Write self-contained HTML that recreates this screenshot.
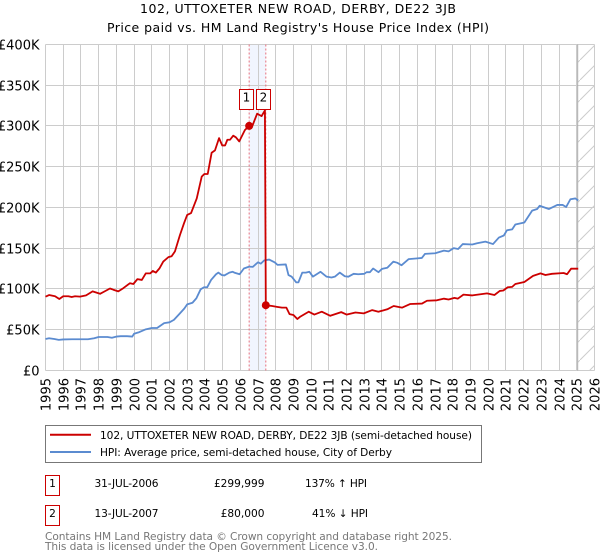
<!DOCTYPE html>
<html lang="en">
<head>
<meta charset="utf-8">
<title>102, UTTOXETER NEW ROAD, DERBY, DE22 3JB</title>
<style>
html,body{margin:0;padding:0;background:#fff;width:600px;height:560px;overflow:hidden}
svg{display:block}
text{font-family:"DejaVu Sans","Liberation Sans",sans-serif;fill:#000}
</style>
</head>
<body>
<svg id="chart" xmlns="http://www.w3.org/2000/svg" width="600" height="560" viewBox="0 0 600 560">
  <defs>
    <pattern id="hatch" patternUnits="userSpaceOnUse" width="20" height="20">
      <path d="M-2 22 L22 -2" stroke="#ccc" stroke-width="1" fill="none"/>
    </pattern>
  </defs>
  <rect x="0" y="0" width="600" height="560" fill="#fff"/>
  <text x="298" y="13" text-anchor="middle" font-size="12.5" textLength="316" lengthAdjust="spacing">102, UTTOXETER NEW ROAD, DERBY, DE22 3JB</text>
  <text x="298" y="32" text-anchor="middle" font-size="12.5" textLength="382" lengthAdjust="spacing">Price paid vs. HM Land Registry's House Price Index (HPI)</text>
  <g id="plot"></g>

  <g>
    <rect x="45.5" y="425.5" width="436" height="37" fill="#fff" stroke="#777" stroke-width="1"/>
    <line x1="50" x2="91" y1="434.7" y2="434.7" stroke="#cc0000" stroke-width="2"/>
    <text x="100" y="439" font-size="10.6" textLength="372" lengthAdjust="spacing">102, UTTOXETER NEW ROAD, DERBY, DE22 3JB (semi-detached house)</text>
    <line x1="50" x2="91" y1="452" y2="452" stroke="#5b8bd0" stroke-width="2"/>
    <text x="100" y="456" font-size="10.6" textLength="292" lengthAdjust="spacing">HPI: Average price, semi-detached house, City of Derby</text>
  </g>

  <g>
    <rect x="45.5" y="475.5" width="14" height="20" fill="#fff" stroke="#c00" stroke-width="1"/>
    <text x="52.5" y="487" text-anchor="middle" font-size="10.6">1</text>
    <text x="94.5" y="487" font-size="10.6" textLength="64" lengthAdjust="spacing">31-JUL-2006</text>
    <text x="264.5" y="487" text-anchor="end" font-size="10.6">£299,999</text>
    <text x="305" y="487" font-size="10.6" textLength="62" lengthAdjust="spacing">137% ↑ HPI</text>
    <rect x="45.5" y="505.5" width="14" height="20" fill="#fff" stroke="#c00" stroke-width="1"/>
    <text x="52.5" y="517" text-anchor="middle" font-size="10.6">2</text>
    <text x="94.5" y="517" font-size="10.6" textLength="64" lengthAdjust="spacing">13-JUL-2007</text>
    <text x="264.5" y="517" text-anchor="end" font-size="10.6">£80,000</text>
    <text x="312" y="517" font-size="10.6" textLength="56" lengthAdjust="spacing">41% ↓ HPI</text>
  </g>

  <text x="45" y="540" font-size="10.6" textLength="407" lengthAdjust="spacing" style="fill:#777">Contains HM Land Registry data © Crown copyright and database right 2025.</text>
  <text x="45" y="550" font-size="10.6" textLength="333" lengthAdjust="spacing" style="fill:#777">This data is licensed under the Open Government Licence v3.0.</text>
</svg>

<script>
const yearTicks = [1995,1996,1997,1998,1999,2000,2001,2002,2003,2004,2005,2006,2007,2008,2009,2010,2011,2012,2013,2014,2015,2016,2017,2018,2019,2020,2021,2022,2023,2024,2025,2026];
const valueTicks = [0,50,100,150,200,250,300,350,400];
const valueTickLabels = ['£0','£50K','£100K','£150K','£200K','£250K','£300K','£350K','£400K'];

const priceYears = [
  1995,1995.2,1995.54,1995.78,1996,1996.29,1996.48,1996.67,1996.95,1997.29,1997.66,1998.08,1998.3,1998.64,1998.83,1999.11,1999.4,1999.77,1999.96,
  2000.19,2000.44,2000.66,2000.91,2001.06,2001.23,2001.43,2001.65,2001.94,2002.12,2002.31,2002.59,2002.82,2003,2003.22,2003.54,2003.82,2003.97,2004.16,2004.38,2004.57,2004.8,2004.98,
  2005.14,2005.27,2005.42,2005.6,2005.75,2005.94,2006.26,2006.5,2006.68,2006.95,2007.2,2007.39,2007.44,
  2007.8,2008.07,2008.35,2008.6,2008.78,2009,2009.22,2009.39,
  2009.86,2010.18,2010.6,2011.08,2011.7,2012,2012.5,2012.97,2013.45,2013.8,2014.3,2014.66,2015.13,2015.6,2016.26,2016.54,2017.1,2017.5,2017.76,2018.09,2018.28,2018.6,2019.1,2019.93,2020.35,2020.65,2020.85,2021.1,2021.35,2021.53,2022.04,2022.53,2022.95,2023.23,2023.6,2024.26,2024.45,2024.68,2025.08
];
const priceValues = [
  90.5,92.5,91,87.6,91,91,90,91,90.5,92,97,94,96.5,100.5,99,97,101,107,106,
  112,111,119,119,122,120,125,133.5,139,140,146,166,180.5,190.7,193,211,237.7,241,241,267,270,285,276,
  276,283,283,288,286,281,295,300,300,315,312,319,80,
  79,78,77,77,69,68,63,66,
  72,68.5,72,67,71.5,68.5,71,70,74,72,75,79,77,81.5,82,85.5,86,88,87,89,88,93,92,94.5,92.5,97.5,98,102,102.5,106,108.5,116,119,117,118.5,119.5,118,124.8,124.8
];

const hpiYears = [
  1995,1995.2,1995.5,1995.75,1996,1996.5,1997,1997.4,1997.75,1998,1998.5,1998.75,1999,1999.25,1999.6,1999.9,
  2000,2000.3,2000.66,2001,2001.3,2001.7,2002,2002.25,2002.59,2002.84,2003,2003.3,2003.52,2003.76,2003.95,2004.13,2004.35,2004.63,2004.76,2004.95,
  2005.1,2005.38,2005.57,2005.66,2005.96,2006.2,2006.5,2006.7,2007,2007.16,2007.35,2007.63,2007.95,2008.1,2008.57,2008.72,2008.9,2009.16,2009.28,2009.5,2009.7,2009.9,
  2010.1,2010.53,2010.87,2011.15,2011.34,2011.62,2011.9,2012.1,2012.4,2012.66,2013,2013.13,2013.32,2013.5,2013.8,2014,2014.3,2014.64,2014.87,2015.1,2015.5,2016,2016.25,2016.43,
  2017,2017.5,2017.76,2018.05,2018.3,2018.56,2019.1,2019.37,2019.84,2020.27,2020.6,2020.88,2021.06,2021.35,2021.53,2022.04,2022.48,2022.76,2022.9,2023.42,2023.9,2024.2,2024.4,2024.64,2024.92,2025.08
];
const hpiValues = [
  38.5,39.5,38.5,37.5,38,38.2,38.2,38.2,39.5,41,41,40,41.5,42,42,41.5,
  45,47,50.4,52,52,58,59,62,70,76,81,83,88.5,99.5,102,102,111,118,120,117,
  116.5,120,121,120,118,125,127.3,127,132.7,131,135,136,132.5,129.5,130,117,115,108,108,120,120,121,
  115,121,115,114,115,120,115.5,115,118.5,118,118.5,120.5,120.5,125,120.5,124.5,126,133.5,132,129,136.5,137.5,138,143,
  143.7,147,146,150,149,155,154.5,156,158,155,163,165.5,172,173,179,181.5,196,198,202,198,203,203,200.5,210,211,208.5
];

const saleYears = [2006.5,2007.44];
const salePrices = [300,80];
const saleLabels = ['1','2'];
const forecastStartYear = 2025.05;

const NS = 'http://www.w3.org/2000/svg';
const plot = document.getElementById('plot');
const left = 45.5, right = 594.5, top0 = 44.4, bottom = 370.4;
function xScale(year){ return left + (year - 1995) * (right - left) / 31; }
function yScale(value){ return bottom - value * (bottom - top0) / 400; }
function snap(p){ return Math.floor(p) + 0.5; }
function make(tag, attrs){
  const el = document.createElementNS(NS, tag);
  for (const k in attrs) el.setAttribute(k, attrs[k]);
  plot.appendChild(el);
  return el;
}

const frame = make('rect', {x: left, y: snap(top0), width: right - left, height: snap(bottom) - snap(top0), fill: '#fff'});



const band = make('rect', {x: xScale(saleYears[0]), y: snap(top0), width: xScale(saleYears[1]) - xScale(saleYears[0]), height: snap(bottom) - snap(top0), fill: '#f1f5fe'});



const hatch = make('rect', {x: xScale(forecastStartYear), y: snap(top0), width: right - xScale(forecastStartYear), height: snap(bottom) - snap(top0), fill: 'url(#hatch)'});



yearTicks.forEach(function(year){
  const px = snap(xScale(year));
  const line = make('line', {x1: px, x2: px, y1: snap(top0), y2: snap(bottom), stroke: '#ccc', 'stroke-width': 1});
  
  
  const label = make('text', {x: 0, y: 0, 'font-size': 13, 'text-anchor': 'end', transform: 'translate(' + (px + 5) + ',378) rotate(-90)'});
  label.textContent = String(year);
  
  
});

valueTicks.forEach(function(value, i){
  const py = snap(yScale(value));
  const line = make('line', {x1: left, x2: right, y1: py, y2: py, stroke: '#ccc', 'stroke-width': 1});
  
  
  const label = make('text', {x: 39.5, y: py + 5, 'font-size': 13, 'text-anchor': 'end'});
  label.textContent = valueTickLabels[i];
  
  
});

const edge = make('line', {x1: xScale(forecastStartYear), x2: xScale(forecastStartYear), y1: snap(top0), y2: snap(bottom), stroke: '#aaa', 'stroke-width': 1});



saleYears.forEach(function(year){
  const line = make('line', {x1: xScale(year), x2: xScale(year), y1: snap(top0), y2: snap(bottom), stroke: '#e8707c', 'stroke-width': 1, 'stroke-dasharray': '2,2'});
  
  
});

function seriesPath(years, values){
  return years.map(function(year, i){
    return (i ? 'L' : 'M') + xScale(year).toFixed(2) + ' ' + yScale(values[i]).toFixed(2);
  }).join(' ');
}

const hpiLine = make('path', {d: seriesPath(hpiYears, hpiValues), fill: 'none', stroke: '#5b8bd0', 'stroke-width': 1.8, 'stroke-linejoin': 'round'});



const priceLine = make('path', {d: seriesPath(priceYears, priceValues), fill: 'none', stroke: '#cc0000', 'stroke-width': 1.8, 'stroke-linejoin': 'round'});



saleYears.forEach(function(year, i){
  const dot = make('circle', {cx: xScale(year), cy: yScale(salePrices[i]), r: 4, fill: '#cc0000'});
  
  
  const cx = xScale(year) + (i === 0 ? -2.8 : -2.5);
  const box = make('rect', {x: Math.floor(cx - 7) + 0.5, y: 89.5, width: 14, height: 20, fill: '#fff', stroke: '#c00', 'stroke-width': 1});
  
  
  const text = make('text', {x: Math.floor(cx - 7) + 7.5, y: 101.5, 'font-size': 12, 'text-anchor': 'middle'});
  text.textContent = saleLabels[i];
  
  
});
</script>
</body>
</html>
